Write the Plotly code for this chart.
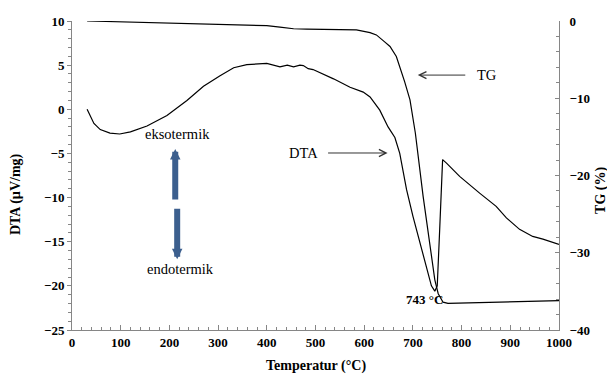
import plotly.graph_objects as go

# DTA curve (°C, µV/mg)
dta_temp = [31, 38, 45, 58, 78, 98, 120, 154, 195, 236, 270, 304, 332, 359, 400, 427, 442, 455,
            468, 475, 485, 495, 537, 571, 598, 612, 632, 649, 663, 673, 687, 700, 714, 728,
            738, 745, 750, 755, 759, 761, 769, 796, 837, 871, 892, 919, 946, 967, 1000]
dta_val = [0, -0.9, -1.6, -2.3, -2.7, -2.8, -2.55, -1.9, -0.7, 1.0, 2.6, 3.8, 4.7, 5.05, 5.2,
           4.8, 5.0, 4.8, 5.0, 4.95, 4.6, 4.5, 3.45, 2.5, 1.95, 1.4, -0.1, -2.0, -3.2, -5.0,
           -9.1, -12.1, -15.1, -18.1, -20.0, -20.6, -20.0, -13.6, -8.0, -5.7, -6.1, -7.6,
           -9.5, -11.0, -12.3, -13.6, -14.4, -14.7, -15.3]

# TG curve (°C, %)
tg_temp = [31, 100, 250, 400, 427, 455, 482, 584, 612, 625, 642, 653, 666, 673, 683, 694,
           705, 721, 735, 745, 752, 762, 772, 1000]
tg_val = [0, -0.1, -0.39, -0.6, -0.8, -1.0, -1.04, -1.16, -1.5, -1.8, -2.7, -3.3, -4.6, -5.9,
          -7.85, -10.2, -14.5, -22.7, -29.2, -33.5, -35.3, -36.4, -36.55, -36.2]

x_ticks = [0, 100, 200, 300, 400, 500, 600, 700, 800, 900, 1000]
dta_ticks = [10, 5, 0, -5, -10, -15, -20, -25]
tg_ticks = [0, -10, -20, -30, -40]

FONT = "Liberation Serif, Times New Roman, serif"
AX = "#868686"

fig = go.Figure()
fig.add_trace(go.Scatter(x=dta_temp, y=dta_val, mode="lines",
                         line=dict(color="black", width=1.2), yaxis="y", showlegend=False))
fig.add_trace(go.Scatter(x=tg_temp, y=tg_val, mode="lines",
                         line=dict(color="black", width=1.2), yaxis="y2", showlegend=False))


def tickfont():
    return dict(family=FONT, size=13, color="black", weight=700)


fig.update_layout(
    width=607, height=374,
    font=dict(family=FONT, color="black"),
    margin=dict(l=72, r=48, t=21, b=44),
    paper_bgcolor="white", plot_bgcolor="white",
    showlegend=False,
    xaxis=dict(range=[0, 1000], tickvals=x_ticks, showgrid=False, zeroline=False,
               showline=True, linecolor=AX, linewidth=1, ticks="inside", ticklen=5,
               tickcolor=AX, tickfont=tickfont(),
               minor=dict(dtick=20, ticks="inside", ticklen=3, tickcolor=AX)),
    yaxis=dict(range=[-25, 10], tickvals=dta_ticks, showgrid=False, zeroline=False,
               showline=True, linecolor=AX, linewidth=1, ticks="outside", ticklen=4,
               tickcolor=AX, tickfont=tickfont(),
               minor=dict(dtick=1, ticks="outside", ticklen=3, tickcolor=AX)),
    yaxis2=dict(range=[-40, 0], tickvals=tg_ticks, overlaying="y", side="right",
                showgrid=False, zeroline=False, showline=True, linecolor=AX, linewidth=1,
                ticks="inside", ticklen=4, tickcolor=AX, tickfont=tickfont(),
                ticklabelstandoff=7,
                minor=dict(dtick=2, ticks="inside", ticklen=3, tickcolor=AX)),
)

ann_font = dict(family=FONT, size=14.5, color="black")
title_font = dict(family=FONT, size=14, color="black", weight=700)

annotations = [
    # axis titles
    dict(text="Temperatur (°C)", xref="paper", yref="paper", x=0.5, y=0, yshift=-36,
         showarrow=False, font=title_font, xanchor="center", yanchor="middle"),
    dict(text="DTA (µV/mg)", xref="paper", yref="paper", x=0, xshift=-56, y=0.44,
         textangle=-90, showarrow=False, font=title_font, xanchor="center", yanchor="middle"),
    dict(text="TG (%)", xref="paper", yref="paper", x=1, xshift=42, y=0.45,
         textangle=-90, showarrow=False, font=title_font, xanchor="center", yanchor="middle"),
    # labels
    dict(text="TG", xref="x", yref="y2", x=852, y=-7.0, showarrow=False, font=ann_font),
    dict(text="", xref="x", yref="y2", x=710, y=-7.0, ax=49, ay=0, showarrow=True,
         arrowhead=5, arrowsize=1.4, arrowwidth=1, arrowcolor="#333333"),
    dict(text="DTA", xref="x", yref="y", x=476, y=-4.95, showarrow=False, font=ann_font),
    dict(text="", xref="x", yref="y", x=648, y=-4.95, ax=-61, ay=0, showarrow=True,
         arrowhead=5, arrowsize=1.4, arrowwidth=1, arrowcolor="#333333"),
    dict(text="743 °C", xref="x", yref="y", x=724, y=-21.6, showarrow=False,
         font=dict(family=FONT, size=13, color="black", weight=700)),
    dict(text="eksotermik", xref="x", yref="y", x=216, y=-2.8, showarrow=False, font=ann_font),
    dict(text="endotermik", xref="x", yref="y", x=222, y=-18.1, showarrow=False, font=ann_font),
    dict(text="", xref="x", yref="y", x=212, y=-4.5, ax=0, ay=52, showarrow=True,
         arrowhead=2, arrowsize=0.35, arrowwidth=6, arrowcolor="#3C5F8E"),
    dict(text="", xref="x", yref="y", x=216, y=-17.0, ax=0, ay=-52, showarrow=True,
         arrowhead=2, arrowsize=0.35, arrowwidth=6, arrowcolor="#3C5F8E"),
]
fig.update_layout(annotations=annotations)

fig.write_html("out.html")
